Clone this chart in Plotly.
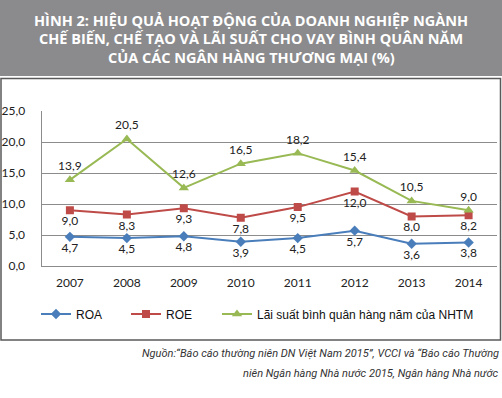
import plotly.graph_objects as go

years = ["2007", "2008", "2009", "2010", "2011", "2012", "2013", "2014"]
roa = [4.7, 4.5, 4.8, 3.9, 4.5, 5.7, 3.6, 3.8]
roe = [9.0, 8.3, 9.3, 7.8, 9.5, 12.0, 8.0, 8.2]
lai_suat = [13.9, 20.5, 12.6, 16.5, 18.2, 15.4, 10.5, 9.0]
series_names = ["ROA", "ROE", "Lãi suất bình quân hàng năm của NHTM"]
y_ticks = [0, 5, 10, 15, 20, 25]

title_lines = ["HÌNH 2: HIỆU QUẢ HOẠT ĐỘNG CỦA DOANH NGHIỆP NGÀNH",
               "CHẾ BIẾN, CHẾ TẠO VÀ LÃI SUẤT CHO VAY BÌNH QUÂN NĂM",
               "CỦA CÁC NGÂN HÀNG THƯƠNG MẠI (%)"]
source_lines = ["Nguồn:“Báo cáo thường niên DN Việt Nam 2015”, VCCI và “Báo cáo Thường",
                "niên Ngân hàng Nhà nước 2015, Ngân hàng Nhà nước"]

W, H = 502, 398
def px(x): return x / W
def py(y): return 1 - y / H

def fmt(v):
    return f"{v:.1f}".replace(".", ",")

fig = go.Figure()
label_font = dict(family="Lato, Open Sans, sans-serif", size=12, color="#222222")
fig.add_trace(go.Scatter(
    x=years, y=roa, name=series_names[0], mode="lines+markers+text", legend="legend",
    line=dict(color="#4a7ebb", width=2),
    marker=dict(symbol="diamond", size=8, color="#4a7ebb"),
    text=[fmt(v) for v in roa], textposition="bottom center", textfont=label_font,
))
fig.add_trace(go.Scatter(
    x=years, y=roe, name=series_names[1], mode="lines+markers+text", legend="legend2",
    line=dict(color="#be4b48", width=2),
    marker=dict(symbol="square", size=8, color="#be4b48"),
    text=[fmt(v) for v in roe], textposition="bottom center", textfont=label_font,
))
fig.add_trace(go.Scatter(
    x=years, y=lai_suat, name=series_names[2], mode="lines+markers+text", legend="legend3",
    line=dict(color="#98b954", width=2),
    marker=dict(symbol="triangle-up", size=9, color="#98b954"),
    text=[fmt(v) for v in lai_suat], textposition="top center", textfont=label_font,
))

leg_font = dict(family="Liberation Sans, Arial, sans-serif", size=12, color="#111111")
def leg(xpx):
    return dict(orientation="h", x=px(xpx), y=py(314), yanchor="middle", xanchor="left",
                font=leg_font, itemwidth=30, bgcolor="rgba(0,0,0,0)")

annotations = []
for i, t in enumerate(title_lines):
    annotations.append(dict(text="<b>" + t + "</b>", xref="paper", yref="paper",
                            x=0.5, y=py(20 + 18.5 * i), xanchor="center", yanchor="middle",
                            showarrow=False,
                            font=dict(family="Open Sans, sans-serif", size=14.5, color="white")))
for i, t in enumerate(source_lines):
    annotations.append(dict(text="<i>" + t + "</i>", xref="paper", yref="paper",
                            x=px(501), y=py(353 + 20 * i), xanchor="right", yanchor="middle",
                            showarrow=False,
                            font=dict(family="Roboto, sans-serif", size=11, color="#333333")))

fig.update_layout(
    width=W, height=H,
    margin=dict(l=0, r=0, t=0, b=0),
    paper_bgcolor="white", plot_bgcolor="white",
    separators=", ",
    showlegend=True,
    legend=leg(36), legend2=leg(126), legend3=leg(217),
    xaxis=dict(domain=[px(41.5), px(497)], showgrid=False, showline=True,
               linecolor="#8c8c8c", linewidth=1, ticks="", automargin=False,
               tickfont=dict(family="Lato, Open Sans, sans-serif", size=12, color="#222222"),
               ticklabelstandoff=6),
    yaxis=dict(domain=[py(266), py(111)], range=[0, 25], tickvals=y_ticks,
               tickformat=".1f", showgrid=True, gridcolor="#8c8c8c", gridwidth=1,
               showline=True, linecolor="#8c8c8c", linewidth=1, zeroline=False,
               ticks="", automargin=False, ticklabelstandoff=13,
               tickfont=dict(family="Lato, Open Sans, sans-serif", size=12, color="#222222")),
    shapes=[
        dict(type="rect", xref="paper", yref="paper", x0=0, x1=1, y0=py(76), y1=1,
             fillcolor="#8b8b8d", line=dict(width=0), layer="below"),
        dict(type="rect", xref="paper", yref="paper", x0=px(1), x1=px(500.5),
             y0=py(340), y1=py(78.5), fillcolor="rgba(0,0,0,0)",
             line=dict(color="#5a5a5a", width=1.5), layer="below"),
    ],
    annotations=annotations,
)

fig.write_html("out.html", config={"displayModeBar": False},
               post_script="document.body.style.margin='0';document.body.style.overflow='hidden';")
